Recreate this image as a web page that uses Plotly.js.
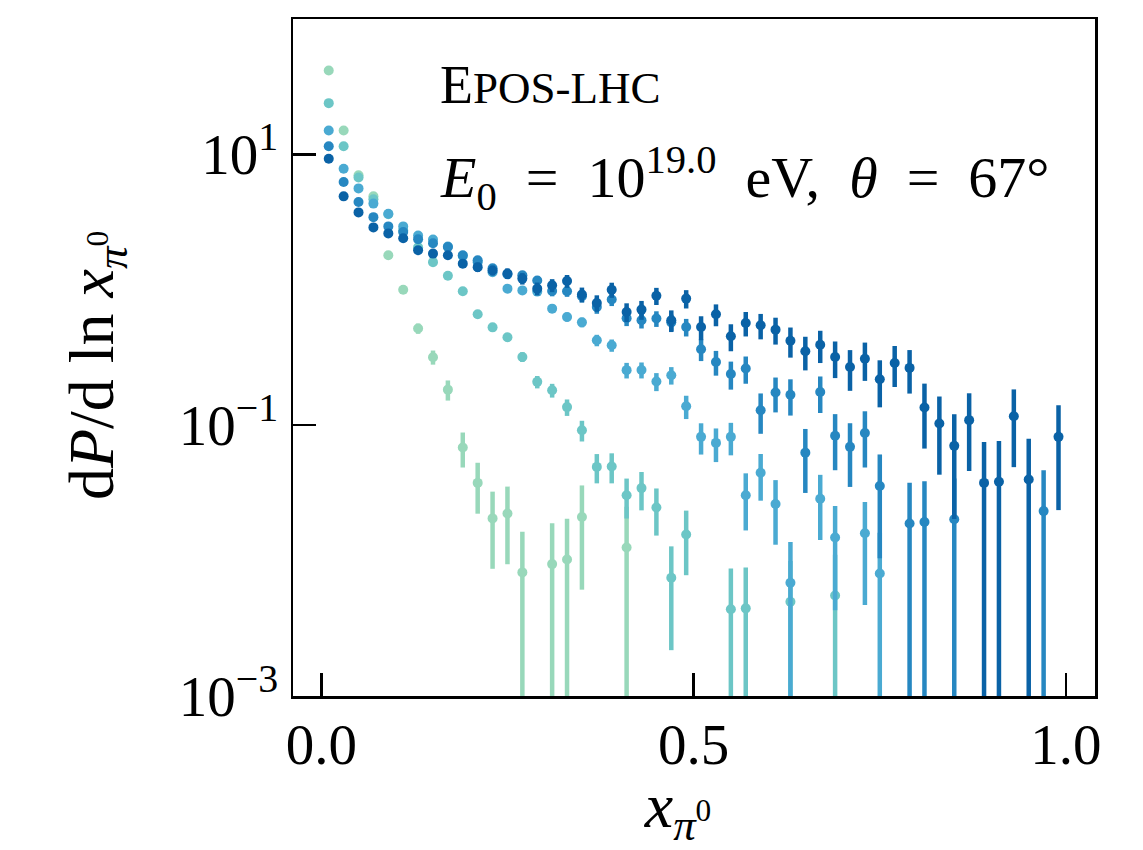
<!DOCTYPE html>
<html><head><meta charset="utf-8">
<script src="https://cdn.plot.ly/plotly-3.0.1.min.js"></script>
<style>html,body{margin:0;padding:0;background:#fff}</style>
</head><body><div id="chart" style="width:1143px;height:850px"></div>
<script>
// bin centres of x_pi0
const xBins = [0.01,0.03,0.05,0.07,0.09,0.11,0.13,0.15,0.17,0.19,0.21,0.23,0.25,0.27,0.29,0.31,0.33,0.35,0.37,0.39,
  0.41,0.43,0.45,0.47,0.49,0.51,0.53,0.55,0.57,0.59,0.61,0.63,0.65,0.67,0.69,0.71,0.73,0.75,0.77,0.79,
  0.81,0.83,0.85,0.87,0.89,0.91,0.93,0.95,0.97,0.99];

// series 1 (lightest)
const s1Val = [41.7,15.0,7.0,4.9,1.80,1.00,0.518,0.318,0.183,0.0685,0.0375,0.0205,0.0223,0.00818,null,0.00942,0.0102,0.0210,null,null,
  0.0125,null,null,null,null,null,null,null,null,null,null,null,null,null,null,null,null,null,null,null,
  null,null,null,null,null,null,null,null,null,null];
const s1Err = [0.112,0.117,0.103,0.102,0.070,0.058,0.045,0.038,0.031,0.0198,0.0153,0.0118,0.0129,0.00818,null,0.00942,0.0102,0.0149,null,null,
  0.0125,null,null,null,null,null,null,null,null,null,null,null,null,null,null,null,null,null,null,null,
  null,null,null,null,null,null,null,null,null,null];

// series 2
const s2Val = [23.9,11.5,6.76,4.66,3.61,2.75,2.06,1.60,1.27,0.975,0.659,0.528,0.446,0.319,0.209,0.181,0.136,0.0918,0.0492,0.0496,
  0.0304,0.0343,0.0247,0.00746,0.0156,null,null,0.00437,0.00444,null,null,0.00497,null,null,0.00552,null,null,null,null,null,
  null,null,null,null,null,null,null,null,null,null];
const s2Err = [0.0436,0.0524,0.0518,0.0509,0.0508,0.049,0.0461,0.0437,0.0414,0.0384,0.0332,0.0311,0.0298,0.0262,0.0220,0.0211,0.0189,0.0160,0.0120,0.0124,
  0.00995,0.0108,0.0094,0.00528,0.0078,null,null,0.00437,0.00444,null,null,0.00497,null,null,0.00552,null,null,null,null,null,
  null,null,null,null,null,null,null,null,null,null];

// series 3
const s3Val = [15.0,7.84,5.61,4.33,3.65,2.94,2.52,2.35,2.09,1.78,1.60,1.35,1.02,0.99,0.97,0.726,0.630,0.575,0.424,0.389,
  0.255,0.256,0.2105,0.234,0.138,0.082,0.074,0.082,0.0304,0.0445,0.0262,0.00686,null,0.0286,0.0148,null,0.0159,0.00804,null,null,
  null,null,null,null,null,null,null,null,null,null];
const s3Err = [0.0402,0.0504,0.055,0.0572,0.0596,0.0591,0.0595,0.0617,0.0619,0.0604,0.0602,0.0579,0.0525,0.0537,0.0551,0.0493,0.0474,0.0466,0.0412,0.0405,
  0.0336,0.0345,0.032,0.0345,0.027,0.0213,0.0206,0.0221,0.0137,0.0168,0.0131,0.00686,null,0.0144,0.0105,null,0.0112,0.00804,null,null,
  null,null,null,null,null,null,null,null,null,null];

// series 4
const s4Val = [11.5,6.25,4.45,3.44,2.94,2.67,2.36,2.21,2.07,1.80,1.65,1.44,1.30,1.28,1.17,0.98,0.975,0.895,0.746,0.847,
  0.617,0.596,0.613,0.575,0.531,0.364,0.293,0.239,0.262,0.129,0.1746,0.168,0.0627,0.176,0.0836,0.0692,0.0877,0.0356,null,0.0188,
  0.0193,null,0.0202,null,null,null,null,null,0.0232,null];
const s4Err = [0.0523,0.0668,0.0728,0.0757,0.0794,0.0836,0.0855,0.0888,0.0915,0.0902,0.0908,0.0888,0.088,0.0907,0.0899,0.085,0.0875,0.0863,0.081,0.0887,
  0.0776,0.0781,0.081,0.0802,0.0787,0.0665,0.0608,0.0559,0.0596,0.0426,0.0503,0.0502,0.0311,0.053,0.0371,0.0342,0.039,0.0252,null,0.0188,
  0.0193,null,0.0202,null,null,null,null,null,0.0232,null];

// series 5 (darkest)
const s5Val = [9.29,4.90,3.73,2.89,2.61,2.40,1.96,1.85,1.80,1.56,1.47,1.39,1.32,1.21,1.02,1.08,1.16,0.922,0.799,1.00,
  0.686,0.714,0.903,0.596,0.861,0.531,0.659,0.454,0.569,0.547,0.508,0.421,0.352,0.393,0.319,0.269,0.310,0.2185,0.288,0.265,
  0.135,0.103,0.0704,0.109,0.0375,0.0382,0.1164,0.0397,null,0.082];
const s5Err = [0.0625,0.0786,0.0885,0.0922,0.0993,0.1053,0.1034,0.108,0.1134,0.1116,0.1139,0.1159,0.1177,0.1171,0.1115,0.1186,0.1268,0.1164,0.1114,0.128,
  0.1087,0.1136,0.1306,0.1085,0.1331,0.1066,0.1211,0.1024,0.1167,0.1164,0.1141,0.1055,0.098,0.1052,0.0962,0.0896,0.0975,0.083,0.0965,0.0938,
  0.0678,0.0599,0.0501,0.0631,0.0375,0.0382,0.0674,0.0397,null,0.0584];

const seriesVals = [s1Val, s2Val, s3Val, s4Val, s5Val];
const seriesErrs = [s1Err, s2Err, s3Err, s4Err, s5Err];
const seriesColors = ['#98d8ba','#6cc6c6','#4aaad2','#2687c1','#0a62a6'];

const xTickVals = [0, 0.5, 1.0];
const xTickText = ['0.0', '0.5', '1.0'];
const yTickVals = [0.001, 0.1, 10];
const yTickText = ['10<sup>\u22123</sup>', '10<sup>\u22121</sup>', '10<sup>1</sup>'];

const FONT = 'Liberation Serif';
const SP = '&nbsp;';

const traces = seriesVals.map((v, k) => ({
  type: 'scatter', mode: 'markers', x: xBins, y: v,
  marker: {color: seriesColors[k], size: 10, line: {width: 0}},
  error_y: {type: 'data', array: seriesErrs[k], symmetric: true, visible: true,
            color: seriesColors[k], thickness: 4.5, width: 0},
  showlegend: false, hoverinfo: 'skip'
}));

const axisCommon = {
  showline: true, linewidth: 2.5, linecolor: '#000', mirror: true,
  ticks: 'inside', ticklen: 23, tickwidth: 2.5, tickcolor: '#000',
  showgrid: false, zeroline: false,
  tickfont: {family: FONT, size: 57, color: '#000'}
};

const layout = {
  width: 1143, height: 850,
  margin: {l: 293, r: 48, t: 19, b: 154},
  paper_bgcolor: '#fff', plot_bgcolor: '#fff',
  font: {family: FONT, color: '#000'},
  xaxis: Object.assign({}, axisCommon, {
    range: [-0.038, 1.039], tickmode: 'array', tickvals: xTickVals, ticktext: xTickText,
    ticklabelstandoff: -3,
    title: {text: '<i>x</i><sub><i>\u03c0</i><sup>0</sup></sub>' + SP + SP, font: {family: FONT, size: 64, color: '#000'}, standoff: 12}
  }),
  yaxis: Object.assign({}, axisCommon, {
    type: 'log', range: [-3, 2], tickmode: 'array', tickvals: yTickVals, ticktext: yTickText,
    ticklabelstandoff: 1,
    title: {text: 'd<i>P</i>/d ln <i>x</i><sub><i>\u03c0</i><sup>0</sup></sub>' + SP, font: {family: FONT, size: 64, color: '#000'}, standoff: 44}
  }),
  annotations: [
    {xref: 'paper', yref: 'paper', x: 0.181, y: 0.902, xanchor: 'left', yanchor: 'middle', showarrow: false,
     text: 'E<span style="font-size:45px">POS-LHC</span>', font: {family: FONT, size: 54, color: '#000'}},
    {xref: 'paper', yref: 'paper', x: 0.181, y: 0.765, xanchor: 'left', yanchor: 'middle', showarrow: false,
     text: '<i>E</i><sub>0</sub>' + SP + SP + '=' + SP + SP + '10<sup>19.0</sup>' + SP + SP + 'eV,' + SP + SP + '<i>\u03b8</i>' + SP + SP + '=' + SP + SP + '67\u00b0',
     font: {family: FONT, size: 58, color: '#000'}}
  ]
};

Plotly.newPlot('chart', traces, layout, {staticPlot: true, displayModeBar: false});
</script>
</body></html>
